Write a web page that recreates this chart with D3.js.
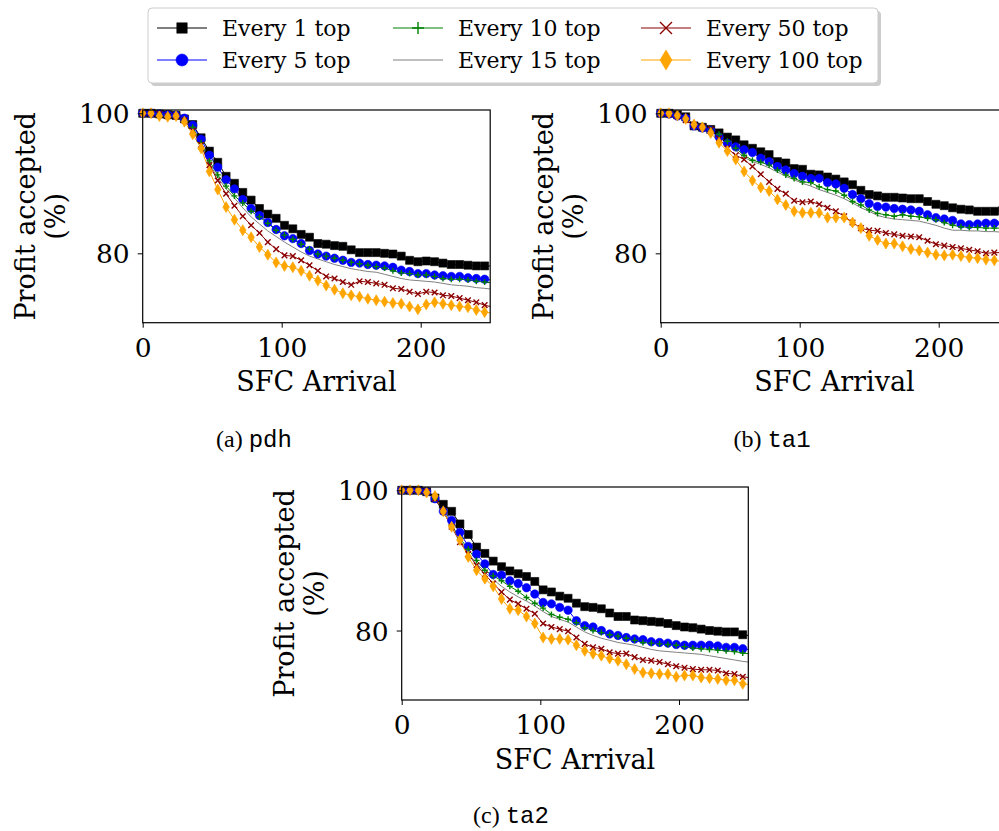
<!DOCTYPE html>
<html lang="en">
<head>
  <meta charset="UTF-8">
  <title>Profit accepted vs SFC arrival</title>
  <script src="https://cdn.jsdelivr.net/npm/d3@7"></script>
  <style>
    body { margin: 0; background: #fff; }
    svg { display: block; }
  </style>
</head>
<body>
<div id="container"></div>
<script>
  const svg_width = 999;
  const svg_height = 831;

  // SFC arrival index of each sampled point
  const arrivals = [0, 6, 12, 18, 24, 30, 36, 42, 48, 54, 60, 66, 72, 78, 84, 90, 96, 102, 108, 114,
    120, 126, 132, 138, 144, 150, 156, 162, 168, 174, 180, 186, 192, 198, 204, 210, 216, 222, 228, 234,
    240, 246, 250];

  const seriesNames = ['Every 1 top', 'Every 5 top', 'Every 10 top', 'Every 15 top', 'Every 50 top', 'Every 100 top'];
  const xTicks = [0, 100, 200];
  const yTicks = [80, 100];

  // (a) pdh
  const pdhEvery1 = [100, 100, 99.9, 99.8, 99.7, 99.2, 98.4, 96.5, 94.6, 93.0, 91.0, 90.0, 88.7, 87.6, 86.4, 85.6, 85.0, 84.0, 83.5, 82.7,
    82.3, 81.4, 81.3, 81.1, 81.0, 80.5, 80.1, 80.1, 80.1, 80.0, 79.9, 79.6, 79.0, 78.8, 78.9, 78.8, 78.6, 78.4, 78.4, 78.3, 78.2, 78.2, 78.2];
  const pdhEvery5 = [100, 100, 99.9, 99.8, 99.7, 99.3, 98.3, 96.3, 94.0, 92.3, 90.5, 89.2, 87.7, 86.4, 85.4, 84.4, 83.4, 82.5, 82.1, 81.4,
    80.4, 79.9, 79.6, 79.3, 79.0, 78.7, 78.6, 78.4, 78.3, 78.2, 78.0, 77.6, 77.4, 77.1, 77.1, 76.9, 76.8, 76.7, 76.7, 76.5, 76.4, 76.3, 76.2];
  const pdhEvery10 = [100, 100, 99.9, 99.8, 99.7, 99.2, 98.0, 95.8, 93.2, 91.2, 89.6, 88.2, 87.2, 86.0, 85.2, 84.3, 83.3, 82.6, 82.0, 81.3,
    80.6, 79.9, 79.6, 79.3, 79.0, 78.7, 78.5, 78.3, 78.1, 77.9, 77.5, 77.2, 77.1, 76.9, 76.9, 76.7, 76.4, 76.3, 76.3, 76.2, 76.0, 75.9, 75.8];
  const pdhEvery15 = [100, 100, 99.9, 99.8, 99.7, 99.1, 97.8, 95.5, 92.8, 90.8, 89.2, 87.9, 86.5, 85.2, 84.2, 83.2, 82.4, 81.6, 80.9, 80.2,
    79.6, 79.2, 78.8, 78.4, 78.1, 77.8, 77.6, 77.4, 77.3, 77.0, 76.7, 76.4, 76.2, 76.1, 76.0, 75.9, 75.7, 75.5, 75.4, 75.3, 75.1, 75.0, 74.9];
  const pdhEvery50 = [100, 100, 99.9, 99.6, 99.6, 99.0, 97.5, 95.5, 92.6, 90.4, 88.5, 86.8, 85.3, 84.0, 82.9, 81.6, 80.6, 79.7, 79.6, 79.0,
    78.3, 77.5, 76.7, 76.4, 75.9, 75.5, 76.0, 75.9, 75.7, 75.5, 75.0, 74.9, 74.5, 74.2, 74.5, 74.4, 74.0, 73.9, 73.6, 73.3, 73.0, 72.6, 72.4];
  const pdhEvery100 = [100, 100, 99.6, 99.5, 99.6, 98.8, 97.0, 95.0, 91.7, 89.1, 86.6, 84.8, 83.3, 82.3, 80.9, 79.8, 78.7, 78.2, 78.0, 77.5,
    76.8, 76.1, 75.4, 74.8, 74.3, 74.0, 73.8, 73.5, 73.3, 73.1, 72.9, 72.8, 72.4, 72.0, 72.7, 73.0, 72.8, 72.6, 72.4, 72.3, 71.9, 71.6, 71.5];

  // (b) ta1
  const ta1Every1 = [100, 100, 99.8, 99.5, 98.2, 98.0, 97.7, 97.2, 96.6, 96.2, 95.5, 95.0, 94.5, 94.1, 93.1, 92.9, 92.1, 92.0, 91.3, 91.2,
    90.9, 90.6, 90.2, 89.8, 89.0, 88.4, 88.2, 88.0, 88.0, 87.9, 87.8, 87.8, 87.4, 87.0, 86.8, 86.5, 86.3, 86.2, 86.0, 86.0, 86.0, 86.1, 86.1];
  const ta1Every5 = [100, 99.9, 99.6, 99.3, 98.2, 97.9, 97.5, 96.6, 95.7, 95.2, 94.8, 94.4, 93.6, 93.1, 92.4, 91.9, 91.4, 91.0, 90.7, 90.7,
    90.1, 89.9, 89.3, 88.4, 87.8, 87.1, 86.7, 86.6, 86.4, 86.3, 86.2, 86.0, 85.5, 85.1, 84.9, 84.7, 84.2, 84.1, 84.2, 84.3, 84.3, 84.3, 84.3];
  const ta1Every10 = [100, 99.9, 99.6, 99.3, 98.3, 98.0, 97.6, 97.0, 96.0, 95.0, 94.0, 93.3, 93.0, 92.6, 91.9, 91.2, 90.7, 90.2, 90.1, 89.5,
    89.1, 88.9, 88.3, 87.4, 86.9, 86.2, 85.7, 85.5, 85.3, 85.5, 85.3, 85.2, 85.0, 84.8, 84.4, 84.0, 83.8, 83.7, 83.7, 83.6, 83.6, 83.6, 83.6];
  const ta1Every15 = [100, 99.9, 99.6, 99.3, 98.3, 98.0, 97.6, 97.0, 95.8, 94.7, 93.7, 93.1, 92.7, 92.2, 91.6, 91.0, 90.5, 90.0, 89.6, 89.1,
    88.7, 88.3, 87.8, 87.2, 86.5, 86.0, 85.4, 85.1, 84.9, 84.8, 84.7, 84.6, 84.3, 84.0, 83.6, 83.3, 83.3, 83.2, 83.2, 83.1, 83.1, 83.0, 83.0];
  const ta1Every50 = [100, 99.9, 99.6, 99.0, 98.3, 98.0, 97.7, 96.4, 95.0, 94.0, 93.4, 92.4, 91.3, 90.2, 89.2, 88.5, 87.5, 87.3, 87.4, 87.0,
    86.5, 86.0, 85.3, 84.4, 83.6, 83.3, 83.2, 82.9, 82.7, 82.5, 82.4, 82.3, 81.8, 81.3, 81.1, 80.9, 80.7, 80.5, 80.3, 80.0, 80.1, 80.1, 80.1];
  const ta1Every100 = [100, 100, 99.7, 99.2, 98.4, 98.0, 97.2, 95.8, 94.6, 93.4, 91.7, 90.4, 89.4, 88.9, 87.7, 86.9, 86.0, 85.8, 85.8, 85.8,
    85.1, 85.1, 85.1, 84.4, 83.6, 82.5, 81.9, 81.4, 81.4, 81.0, 80.6, 80.4, 80.1, 79.8, 79.7, 79.8, 79.6, 79.4, 79.3, 79.1, 79.0, 78.8, 78.8];

  // (c) ta2
  const ta2Every1 = [100, 100, 100, 99.8, 98.9, 98.0, 97.0, 95.2, 93.7, 91.9, 91.0, 89.9, 89.1, 88.5, 88.1, 87.7, 87.0, 85.8, 85.5, 84.9,
    84.6, 83.9, 83.4, 83.3, 83.1, 82.5, 82.0, 82.0, 81.5, 81.4, 81.3, 81.2, 81.0, 80.7, 80.5, 80.4, 80.2, 80.0, 79.9, 79.8, 79.8, 79.4, 79.3];
  const ta2Every5 = [100, 100, 100, 99.8, 98.8, 97.0, 95.7, 94.0, 92.0, 90.9, 89.5, 88.0, 87.9, 87.1, 86.7, 86.1, 85.2, 84.0, 83.8, 83.3,
    82.9, 81.4, 80.7, 80.5, 80.0, 79.5, 79.3, 79.0, 78.8, 78.7, 78.4, 78.3, 78.2, 78.0, 77.9, 77.9, 77.9, 77.9, 77.8, 77.6, 77.6, 77.4, 77.3];
  const ta2Every10 = [100, 100, 100, 99.8, 98.8, 97.0, 95.0, 93.2, 91.6, 90.0, 88.6, 87.8, 87.1, 86.3, 85.6, 84.7, 83.9, 83.2, 82.3, 81.9,
    81.6, 81.1, 80.4, 80.0, 79.7, 79.4, 79.2, 78.9, 78.6, 78.3, 78.2, 78.1, 78.0, 77.9, 77.7, 77.5, 77.4, 77.3, 77.2, 77.1, 77.0, 76.8, 76.7];
  const ta2Every15 = [100, 100, 100, 99.8, 98.8, 97.0, 94.8, 93.0, 91.0, 89.6, 88.3, 87.3, 86.3, 85.5, 84.8, 84.2, 83.5, 82.7, 82.0, 81.6,
    81.2, 80.5, 79.8, 79.3, 78.9, 78.6, 78.3, 78.1, 77.9, 77.6, 77.3, 77.1, 77.0, 76.9, 76.8, 76.7, 76.6, 76.4, 76.2, 76.0, 75.8, 75.6, 75.5];
  const ta2Every50 = [100, 100, 100, 99.8, 98.8, 97.0, 94.8, 92.6, 90.9, 89.3, 88.0, 86.7, 85.5, 84.4, 83.8, 83.1, 82.4, 81.0, 80.5, 80.2,
    79.9, 79.0, 78.1, 77.6, 77.4, 76.9, 76.7, 76.7, 76.2, 75.8, 75.7, 75.5, 75.2, 74.9, 74.7, 74.5, 74.4, 74.4, 74.3, 73.9, 73.8, 73.4, 73.3];
  const ta2Every100 = [100, 100, 100, 99.7, 99.2, 97.0, 94.8, 92.9, 90.5, 88.6, 87.4, 86.3, 84.5, 83.1, 82.9, 82.0, 81.0, 79.0, 78.8, 78.8,
    78.7, 77.9, 77.1, 76.7, 76.4, 76.0, 75.7, 75.2, 74.5, 74.0, 73.9, 73.8, 73.8, 73.4, 73.6, 73.6, 73.3, 73.2, 73.1, 72.9, 72.9, 72.4, 72.3];

  // matplotlib style: k, b, g, grey, darkred, orange
  const colors = ['#000000', '#0000ff', '#008000', '#808080', '#8b0000', '#ffa500'];
  const markers = ['square', 'circle', 'plus', 'none', 'x', 'diamond'];

  const panels = [
    { caption: '(a) ', code: 'pdh', series: [pdhEvery1, pdhEvery5, pdhEvery10, pdhEvery15, pdhEvery50, pdhEvery100],
      left: 142.7, top: 110, width: 347.5, height: 212.7, capX: 254, capY: 447 },
    { caption: '(b) ', code: 'ta1', series: [ta1Every1, ta1Every5, ta1Every10, ta1Every15, ta1Every50, ta1Every100],
      left: 660.7, top: 110, width: 347.5, height: 212.7, capX: 772, capY: 447 },
    { caption: '(c) ', code: 'ta2', series: [ta2Every1, ta2Every5, ta2Every10, ta2Every15, ta2Every50, ta2Every100],
      left: 401.7, top: 487, width: 346.6, height: 213, capX: 511, capY: 823 }
  ];

  const serif = "'DejaVu Serif', serif";

  // marker outline, centered on 0,0
  function markerPath(type, s) {
    if (type === 'square') return `M${-s},${-s}h${2 * s}v${2 * s}h${-2 * s}Z`;
    if (type === 'circle') return `M${-s},0a${s},${s} 0 1,0 ${2 * s},0a${s},${s} 0 1,0 ${-2 * s},0Z`;
    if (type === 'plus') return `M${-s},0H${s}M0,${-s}V${s}`;
    if (type === 'x') return `M${-s},${-s}L${s},${s}M${-s},${s}L${s},${-s}`;
    if (type === 'diamond') return `M0,${-s}L${s * 0.6},0L0,${s}L${-s * 0.6},0Z`;
    return '';
  }
  function isFilled(type) {
    return type === 'square' || type === 'circle' || type === 'diamond';
  }
  const plotSize = { square: 4, circle: 4.2, plus: 3, x: 2.8, diamond: 5.5 };
  const legendSize = { square: 5.2, circle: 6, plus: 6, x: 6, diamond: 10 };

  const svg = d3.select('#container')
    .append('svg')
    .attr('width', svg_width)
    .attr('height', svg_height);

  svg.append('rect').attr('width', svg_width).attr('height', svg_height).attr('fill', '#fff');

  panels.forEach(function (p, pi) {
    const x_scale = d3.scaleLinear().domain([0, 250]).range([0, p.width]);
    const y_scale = d3.scaleLinear().domain([70.09, 100.47]).range([p.height, 0]);

    const g = svg.append('g').attr('transform', 'translate(' + p.left + ',' + p.top + ')');

    g.append('clipPath').attr('id', 'clip' + pi)
      .append('rect').attr('width', p.width).attr('height', p.height);

    const line = d3.line()
      .x(function (d) { return x_scale(d[0]); })
      .y(function (d) { return y_scale(d[1]); });

    const plot = g.append('g').attr('clip-path', 'url(#clip' + pi + ')');

    p.series.forEach(function (vals, si) {
      const pts = arrivals.map(function (a, i) { return [a, vals[i]]; });
      plot.append('path')
        .attr('d', line(pts))
        .attr('fill', 'none')
        .attr('stroke', colors[si])
        .attr('stroke-width', 1);

      const type = markers[si];
      if (type === 'none') return;
      // markers on every sampled point except the closing edge point
      g.append('g').selectAll('path')
        .data(pts.slice(0, pts.length - 1))
        .enter()
        .append('path')
        .attr('transform', function (d) { return 'translate(' + x_scale(d[0]) + ',' + y_scale(d[1]) + ')'; })
        .attr('d', markerPath(type, plotSize[type]))
        .attr('fill', isFilled(type) ? colors[si] : 'none')
        .attr('stroke', colors[si])
        .attr('stroke-width', isFilled(type) ? 0.6 : 1.4);
    });

    // frame
    g.append('rect')
      .attr('width', p.width).attr('height', p.height)
      .attr('fill', 'none').attr('stroke', '#000').attr('stroke-width', 1.2);

    const x_axis = d3.axisBottom(x_scale).tickValues(xTicks).tickSize(5).tickPadding(6);
    const y_axis = d3.axisLeft(y_scale).tickValues(yTicks).tickSize(5).tickPadding(8);

    const gx = g.append('g').attr('transform', 'translate(0,' + p.height + ')').call(x_axis);
    const gy = g.append('g').call(y_axis);
    [gx, gy].forEach(function (ax) {
      ax.select('.domain').remove();
      ax.selectAll('line').attr('stroke', '#000').attr('stroke-width', 1);
      ax.selectAll('text').attr('fill', '#000').style('font-family', serif).style('font-size', '26.5px');
    });
    gx.selectAll('text').attr('dy', null).attr('y', 34.3);
    gy.selectAll('text').attr('dy', '0.36em');

    g.append('text')
      .attr('x', p.width / 2).attr('y', p.height + 68.5)
      .attr('text-anchor', 'middle')
      .style('font-family', serif).style('font-size', '27px')
      .text('SFC Arrival');

    const ylab = g.append('text')
      .attr('transform', 'rotate(-90)')
      .attr('text-anchor', 'middle')
      .style('font-family', serif).style('font-size', '27px');
    ylab.append('tspan').attr('x', -p.height / 2).attr('y', -108).text('Profit accepted');
    ylab.append('tspan').attr('x', -p.height / 2).attr('y', -78).text('(%)');

    const cap = svg.append('text')
      .attr('x', p.capX).attr('y', p.capY)
      .attr('text-anchor', 'middle')
      .style('font-size', '24px');
    cap.append('tspan').style('font-family', "'Liberation Serif', serif").text(p.caption);
    cap.append('tspan').style('font-family', "'Liberation Mono', monospace").text(p.code);
  });

  // legend
  const legend = svg.append('g');
  legend.append('rect')
    .attr('x', 151).attr('y', 11).attr('width', 730).attr('height', 75).attr('rx', 4)
    .attr('fill', '#999').attr('opacity', 0.5);
  legend.append('rect')
    .attr('x', 148).attr('y', 8).attr('width', 730).attr('height', 75).attr('rx', 4)
    .attr('fill', '#fff').attr('stroke', '#ccc').attr('stroke-width', 1);

  const colX = [157, 393, 641];
  const rowY = [28, 60];
  seriesNames.forEach(function (name, i) {
    const hx = colX[Math.floor(i / 2)];
    const hy = rowY[i % 2];
    const type = markers[i];
    legend.append('line')
      .attr('x1', hx).attr('x2', hx + 50).attr('y1', hy).attr('y2', hy)
      .attr('stroke', colors[i]).attr('stroke-width', 1.2);
    if (type !== 'none') {
      legend.append('path')
        .attr('transform', 'translate(' + (hx + 25) + ',' + hy + ')')
        .attr('d', markerPath(type, legendSize[type]))
        .attr('fill', isFilled(type) ? colors[i] : 'none')
        .attr('stroke', colors[i])
        .attr('stroke-width', isFilled(type) ? 0.6 : 1.4);
    }
    legend.append('text')
      .attr('x', hx + 65).attr('y', hy)
      .attr('dy', '0.35em')
      .style('font-family', serif).style('font-size', '22px')
      .text(name);
  });
</script>
</body>
</html>
